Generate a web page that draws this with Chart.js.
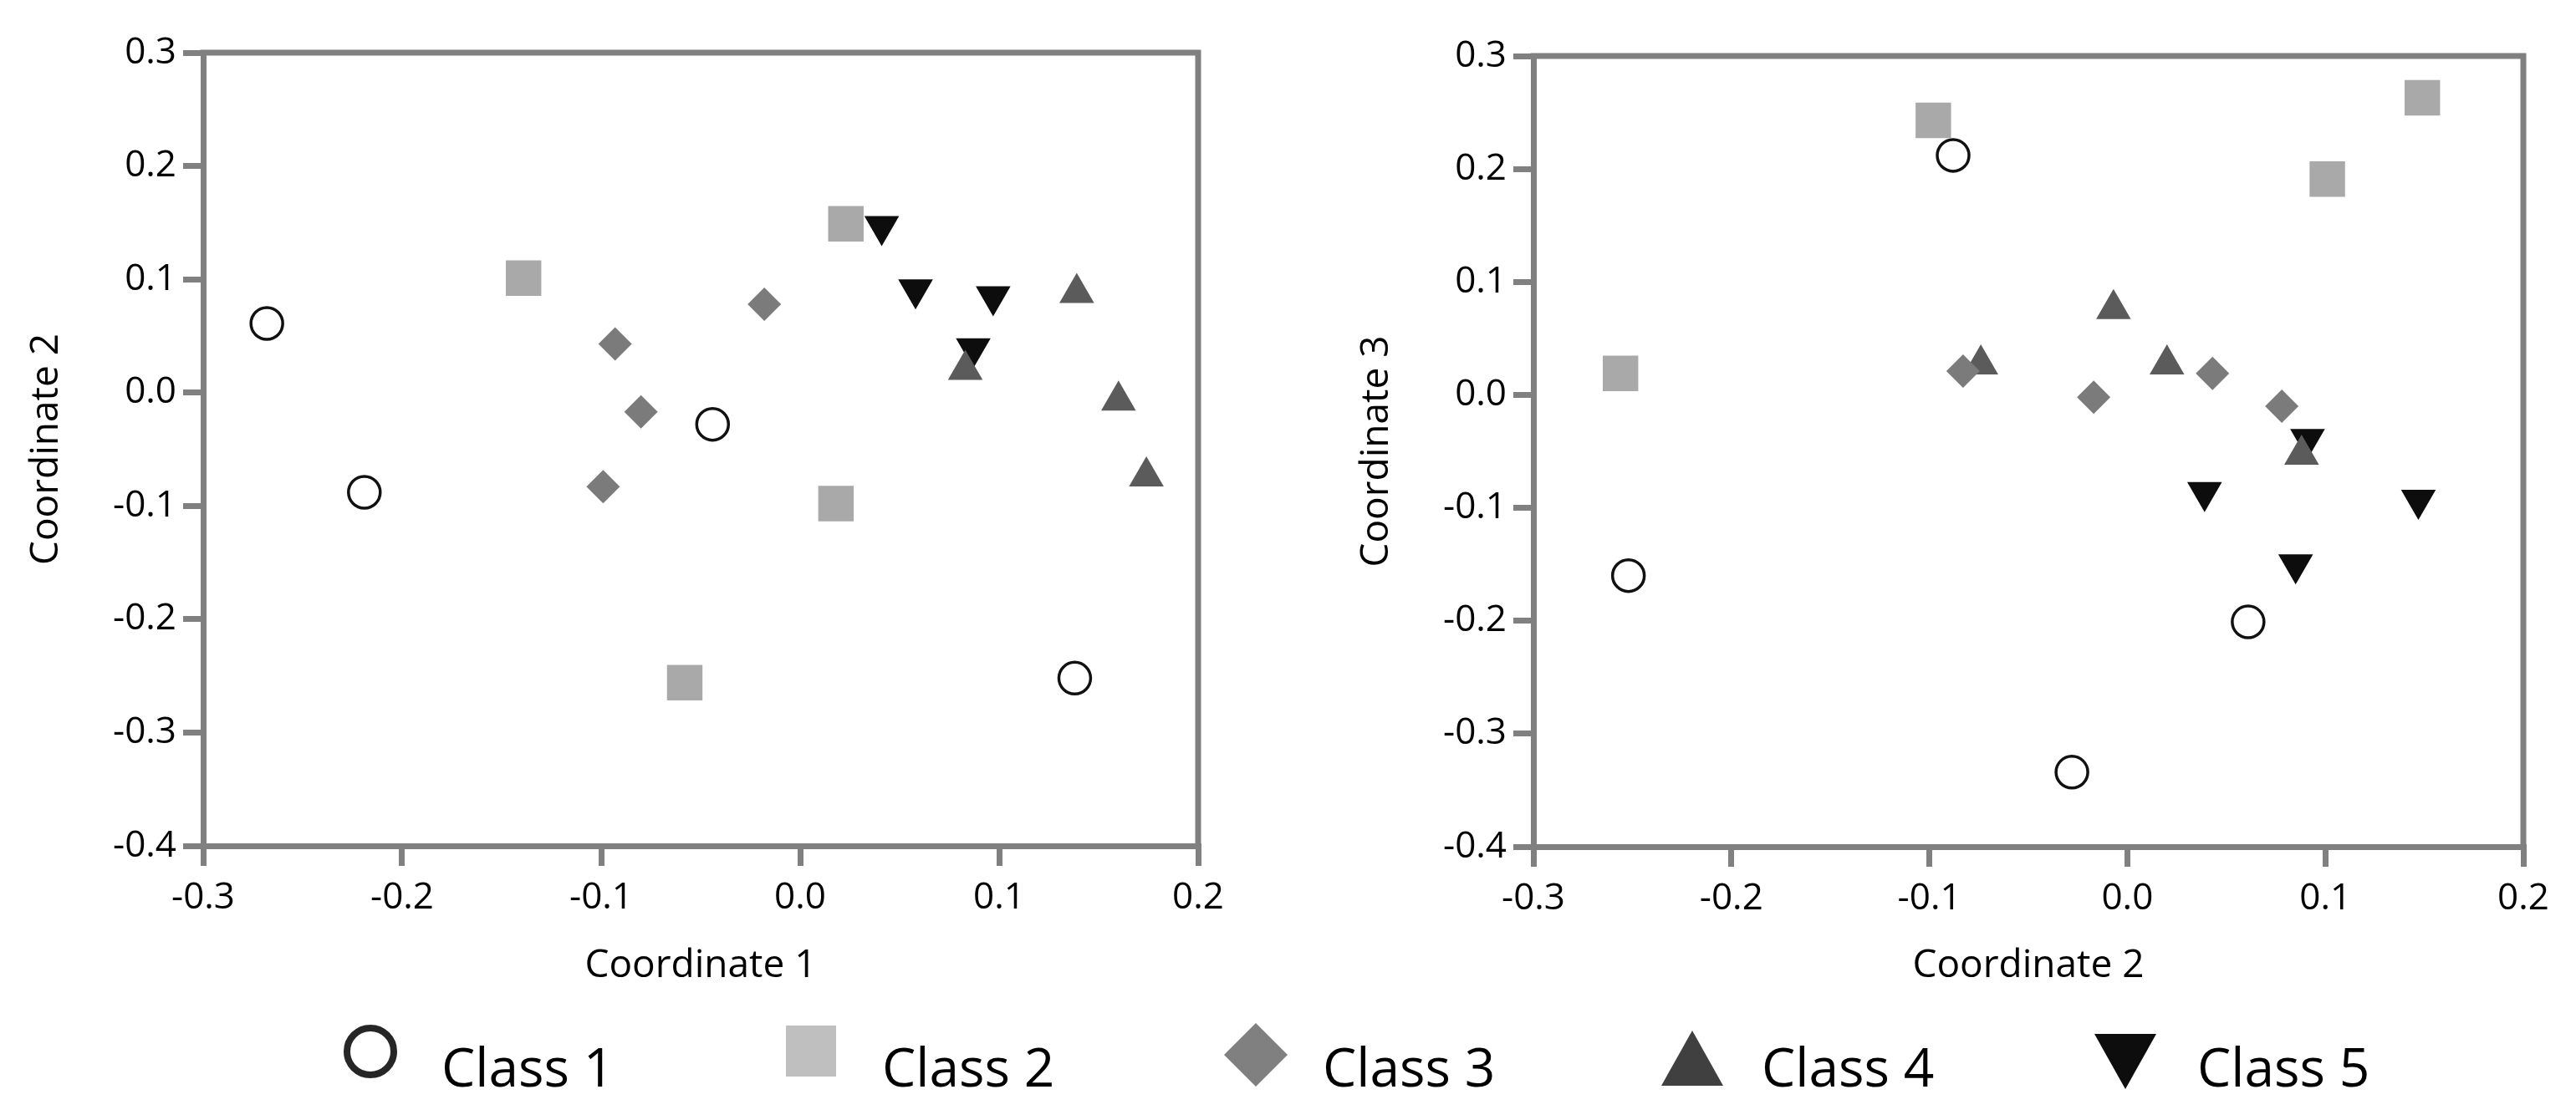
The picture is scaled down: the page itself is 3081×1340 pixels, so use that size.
<!DOCTYPE html>
<html>
<head>
<meta charset="utf-8">
<script src="https://cdn.jsdelivr.net/npm/chart.js@4/dist/chart.umd.min.js"></script>
<style>
  body { margin: 0; background: #fff; overflow: hidden; }
  #page { position: relative; width: 3081px; height: 1340px; }
  .box { position: absolute; top: 0; height: 1200px; }
  #left { left: 0; width: 1530px; }
  #right { left: 1560px; width: 1521px; }
  #legend { position: absolute; left: 0; top: 1200px; }
</style>
</head>
<body>
<div id="page">
  <div class="box" id="left"><canvas id="chartLeft"></canvas></div>
  <div class="box" id="right"><canvas id="chartRight"></canvas></div>
  <svg id="legend" width="3081" height="140" font-family="Open Sans" font-size="64">
    <circle cx="443" cy="58" r="28" fill="#fff" stroke="#262626" stroke-width="8"/>
    <text x="528" y="100">Class 1</text>
    <rect x="940" y="27" width="60" height="61" fill="#bfbfbf"/>
    <text x="1055" y="100">Class 2</text>
    <polygon points="1502,24 1540,62 1502,100 1464,62" fill="#808080"/>
    <text x="1582" y="100">Class 3</text>
    <polygon points="2024,33 2061,99 1987,99" fill="#404040"/>
    <text x="2107" y="100">Class 4</text>
    <polygon points="2505,37 2579,37 2542,103" fill="#0d0d0d"/>
    <text x="2628" y="100">Class 5</text>
  </svg>
</div>
<script>
// coordinates of each sample, per class (Coordinate 1, 2, 3)
var class1Coord1 = [-0.268, -0.219, -0.044, 0.138];
var class1Coord2 = [0.061, -0.088, -0.028, -0.252];
var class1Coord3 = [-0.201, 0.212, -0.334, -0.160];

var class2Coord1 = [-0.139, 0.023, 0.018, -0.058];
var class2Coord2 = [0.101, 0.149, -0.098, -0.256];
var class2Coord3 = [0.191, 0.263, 0.243, 0.019];

var class3Coord1 = [-0.093, -0.080, -0.099, -0.018];
var class3Coord2 = [0.043, -0.017, -0.083, 0.078];
var class3Coord3 = [0.019, -0.002, 0.021, -0.010];

var class4Coord1 = [0.139, 0.083, 0.160, 0.174];
var class4Coord2 = [0.088, 0.020, -0.007, -0.074];
var class4Coord3 = [-0.053, 0.027, 0.076, 0.027];

var class5Coord1 = [0.041, 0.058, 0.097, 0.087];
var class5Coord2 = [0.147, 0.091, 0.085, 0.039];
var class5Coord3 = [-0.093, -0.039, -0.150, -0.086];

var classNames = ['Class 1', 'Class 2', 'Class 3', 'Class 4', 'Class 5'];
var axisMin = -0.3, axisMax = 0.2;
var axisMinY = -0.4, axisMaxY = 0.3;

Chart.defaults.font.family = "'Open Sans'";
Chart.defaults.color = '#000';

function points(xs, ys) {
    return xs.map((x, i) => ({ x: x, y: ys[i] }));
}

// one decimal, and no "-0.0" from rounding noise
function tickLabel(v) {
    if (Math.abs(v) < 1e-9) v = 0;
    return Number(v).toFixed(1);
}

function buildDatasets(c1, c2, c3, c4, c5) {
    return [
        { label: classNames[0], data: c1, pointStyle: 'circle', pointRadius: 19,
          backgroundColor: '#fff', borderColor: '#111', borderWidth: 3.5 },
        { label: classNames[1], data: c2, pointStyle: 'rect', pointRadius: 30,
          backgroundColor: '#a9a9a9', borderWidth: 0 },
        { label: classNames[2], data: c3, pointStyle: 'rectRot', pointRadius: 20,
          backgroundColor: '#7b7b7b', borderWidth: 0 },
        { label: classNames[3], data: c4, pointStyle: 'triangle', pointRadius: 24,
          backgroundColor: '#5b5b5b', borderWidth: 0 },
        { label: classNames[4], data: c5, pointStyle: 'triangle', pointRotation: 180, pointRadius: 24,
          backgroundColor: '#0d0d0d', borderWidth: 0 },
    ];
}

// top and right sides of the plot frame
var framePlugin = {
    id: 'frame',
    beforeDatasetsDraw(chart) {
        var a = chart.chartArea, ctx = chart.ctx;
        ctx.save();
        ctx.strokeStyle = '#808080';
        ctx.lineWidth = 7;
        ctx.lineCap = 'square';
        ctx.beginPath();
        ctx.moveTo(a.left, a.top);
        ctx.lineTo(a.right, a.top);
        ctx.lineTo(a.right, a.bottom);
        ctx.stroke();
        ctx.restore();
    }
};

function makeChart(id, datasets, xTitle, yTitle, g) {
    var ctx = document.getElementById(id);
    return new Chart(ctx, {
        type: 'scatter',
        data: { datasets: datasets },
        plugins: [framePlugin],
        options: {
            responsive: true,
            maintainAspectRatio: false,
            devicePixelRatio: 1,
            animation: false,
            layout: { padding: { top: g.top, right: g.right, bottom: 0, left: 0 } },
            plugins: { legend: { display: false }, tooltip: { enabled: false } },
            scales: {
                x: {
                    type: 'linear', min: axisMin, max: axisMax,
                    afterFit: s => { s.height = g.xHeight; },
                    ticks: { stepSize: 0.1, padding: 12, font: { size: 44 }, callback: tickLabel },
                    grid: { drawOnChartArea: false, tickLength: 24, lineWidth: 7, color: '#808080' },
                    border: { color: '#808080', width: 7 },
                    title: { display: true, text: xTitle, font: { size: 46 }, padding: { top: 0, bottom: 17 } }
                },
                y: {
                    type: 'linear', min: axisMinY, max: axisMaxY,
                    afterFit: s => { s.width = g.yWidth; },
                    ticks: { stepSize: 0.1, padding: 8, font: { size: 44 }, callback: tickLabel },
                    grid: { drawOnChartArea: false, tickLength: 24, lineWidth: 7, color: '#808080' },
                    border: { color: '#808080', width: 7 },
                    title: { display: true, text: yTitle, font: { size: 46 }, padding: { top: g.yTitlePad, bottom: 0 } }
                }
            }
        }
    });
}

makeChart('chartLeft',
    buildDatasets(points(class1Coord1, class1Coord2), points(class2Coord1, class2Coord2),
                  points(class3Coord1, class3Coord2), points(class4Coord1, class4Coord2),
                  points(class5Coord1, class5Coord2)),
    'Coordinate 1', 'Coordinate 2',
    { top: 63, right: 97, xHeight: 188, yWidth: 243, yTitlePad: 28 });

makeChart('chartRight',
    buildDatasets(points(class1Coord2, class1Coord3), points(class2Coord2, class2Coord3),
                  points(class3Coord2, class3Coord3), points(class4Coord2, class4Coord3),
                  points(class5Coord2, class5Coord3)),
    'Coordinate 2', 'Coordinate 3',
    { top: 67, right: 63, xHeight: 187, yWidth: 274, yTitlePad: 59 });
</script>
</body>
</html>
